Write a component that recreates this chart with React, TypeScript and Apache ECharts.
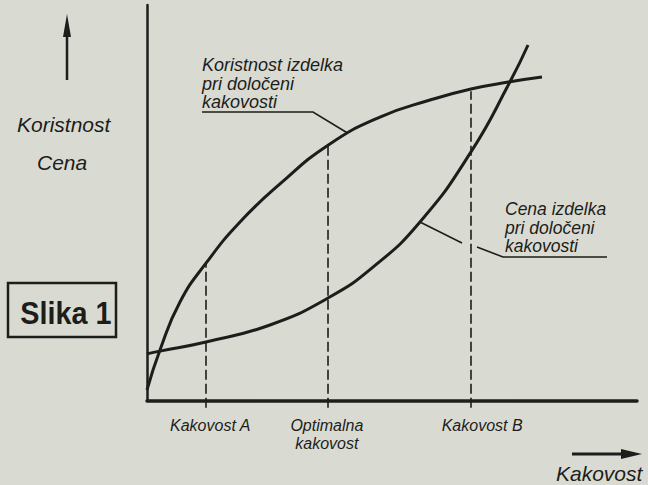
import React, { useEffect, useRef } from "react";
import * as echarts from "echarts";

// Utility curve ("Koristnost izdelka pri določeni kakovosti")
const utilityQuality = [0, 2.65, 6.73, 12.04, 18.98, 27.14, 36.94, 47.55, 57.76, 66.12, 74.08, 80.61];
const utility = [2.8, 12.9, 25.0, 34.8, 45.2, 54.8, 64.6, 71.7, 76.0, 78.8, 80.6, 81.8];

// Price curve ("Cena izdelka pri določeni kakovosti")
const priceQuality = [0, 2.65, 12.04, 25.1, 36.94, 46.12, 55.71, 66.12, 74.08, 77.76];
const price = [11.9, 12.6, 14.9, 19.2, 26.0, 33.8, 45.2, 62.9, 80.6, 89.9];

// Marked quality levels (dashed verticals)
const markQuality = [12.04, 36.94, 66.12];
const markTop = [34.8, 64.6, 78.2];
const markLabels = ["Kakovost A", "Optimalna\nkakovost", "Kakovost B"];
const labelAnchor = [12.9, 36.7, 68.4];

// Leader-line anchor points on the curves
const utilityAnchor = [41.0, 67.6];
const priceAnchor = [55.7, 45.2];

const INK = "#1d1d1b";
const PAPER = "#d9dbd2";
const FONT = "Liberation Sans";

export default function App() {
  const ref = useRef<HTMLDivElement>(null);

  useEffect(() => {
    if (!ref.current) return;
    const chart = echarts.init(ref.current, null, { renderer: "svg" });

    const dashSeries = markQuality.map((q, i) => ({
      type: "line",
      data: [
        [q, -1.7],
        [q, markTop[i]],
      ],
      symbol: "none",
      clip: false,
      silent: true,
      lineStyle: { color: INK, width: 1.6, type: [10, 4] },
      z: 1,
    }));

    chart.setOption({
      animation: false,
      backgroundColor: PAPER,
      grid: { left: 147, right: 11, top: 5, bottom: 84, containLabel: false },
      xAxis: {
        type: "value",
        min: 0,
        max: 100,
        axisLine: { show: true, lineStyle: { color: INK, width: 3.5 } },
        axisTick: { show: false },
        splitLine: { show: false },
        axisLabel: {
          show: true,
          customValues: labelAnchor,
          formatter: (v: number) => {
            let best = 0;
            labelAnchor.forEach((a, i) => {
              if (Math.abs(a - v) < Math.abs(labelAnchor[best] - v)) best = i;
            });
            return markLabels[best];
          },
          color: INK,
          fontFamily: FONT,
          fontStyle: "italic",
          fontSize: 16,
          lineHeight: 18,
          margin: 15,
        },
      },
      yAxis: {
        type: "value",
        min: 0,
        max: 100,
        axisLine: { show: true, lineStyle: { color: INK, width: 2.5 } },
        axisTick: { show: false },
        splitLine: { show: false },
        axisLabel: { show: false },
      },
      series: [
        {
          type: "line",
          name: "Koristnost",
          data: utilityQuality.map((q, i) => [q, utility[i]]),
          smooth: 0.5,
          symbol: "none",
          lineStyle: { color: INK, width: 3 },
          z: 3,
        },
        {
          type: "line",
          name: "Cena",
          data: priceQuality.map((q, i) => [q, price[i]]),
          smooth: 0.5,
          symbol: "none",
          lineStyle: { color: INK, width: 3 },
          z: 3,
        },
        ...dashSeries,
      ],
    });

    const a = chart.convertToPixel({ gridIndex: 0 }, utilityAnchor) as number[];
    const b = chart.convertToPixel({ gridIndex: 0 }, priceAnchor) as number[];

    const txt = (text: string, x: number, y: number, size: number, extra: any = {}) => ({
      type: "text",
      x,
      y,
      style: {
        text,
        fill: INK,
        fontFamily: FONT,
        fontStyle: "italic",
        fontSize: size,
        verticalAlign: "top",
        align: "left",
        ...extra,
      },
      z: 10,
    });

    chart.setOption({
      graphic: [
        // up arrow
        { type: "line", shape: { x1: 67, y1: 80, x2: 67, y2: 34 }, style: { stroke: INK, lineWidth: 2.5 } },
        { type: "polygon", shape: { points: [[67, 14], [63, 37], [71, 37]] }, style: { fill: INK } },
        // right arrow
        { type: "line", shape: { x1: 572, y1: 454, x2: 624, y2: 454 }, style: { stroke: INK, lineWidth: 3 } },
        { type: "polygon", shape: { points: [[642, 454], [621, 449], [621, 459]] }, style: { fill: INK } },
        // left axis title
        txt("Koristnost", 17, 114, 21),
        txt("Cena", 37, 152, 21),
        // bottom axis title
        txt("Kakovost", 556, 463, 21),
        // Slika 1 box
        { type: "rect", shape: { x: 8, y: 283, width: 108, height: 54 }, style: { fill: "none", stroke: INK, lineWidth: 2.5 } },
        {
          type: "text",
          x: 60,
          y: 312,
          scaleX: 0.9,
          originX: 60,
          originY: 312,
          style: {
            text: "Slika 1",
            fill: INK,
            fontFamily: FONT,
            fontWeight: "bold",
            fontSize: 32,
            align: "center",
            verticalAlign: "middle",
          },
        },
        // annotation 1
        txt("Koristnost izdelka\npri določeni\nkakovosti", 202, 56, 18, { lineHeight: 18.5 }),
        {
          type: "polyline",
          shape: { points: [[202, 112], [313, 112], [a[0], a[1]]] },
          style: { stroke: INK, lineWidth: 1.6, fill: "none" },
        },
        // annotation 2
        txt("Cena izdelka\npri določeni\nkakovosti", 505, 200, 17.5, { lineHeight: 18.5 }),
        {
          type: "polyline",
          shape: { points: [[b[0], b[1]], [462, 243]] },
          style: { stroke: INK, lineWidth: 1.6, fill: "none" },
        },
        {
          type: "polyline",
          shape: { points: [[477, 247], [503, 257], [607, 257]] },
          style: { stroke: INK, lineWidth: 1.6, fill: "none" },
        },
      ],
    });

    return () => chart.dispose();
  }, []);

  return (
    <div
      ref={ref}
      style={{ position: "fixed", left: 0, top: 0, width: 648, height: 485, background: PAPER }}
    />
  );
}
